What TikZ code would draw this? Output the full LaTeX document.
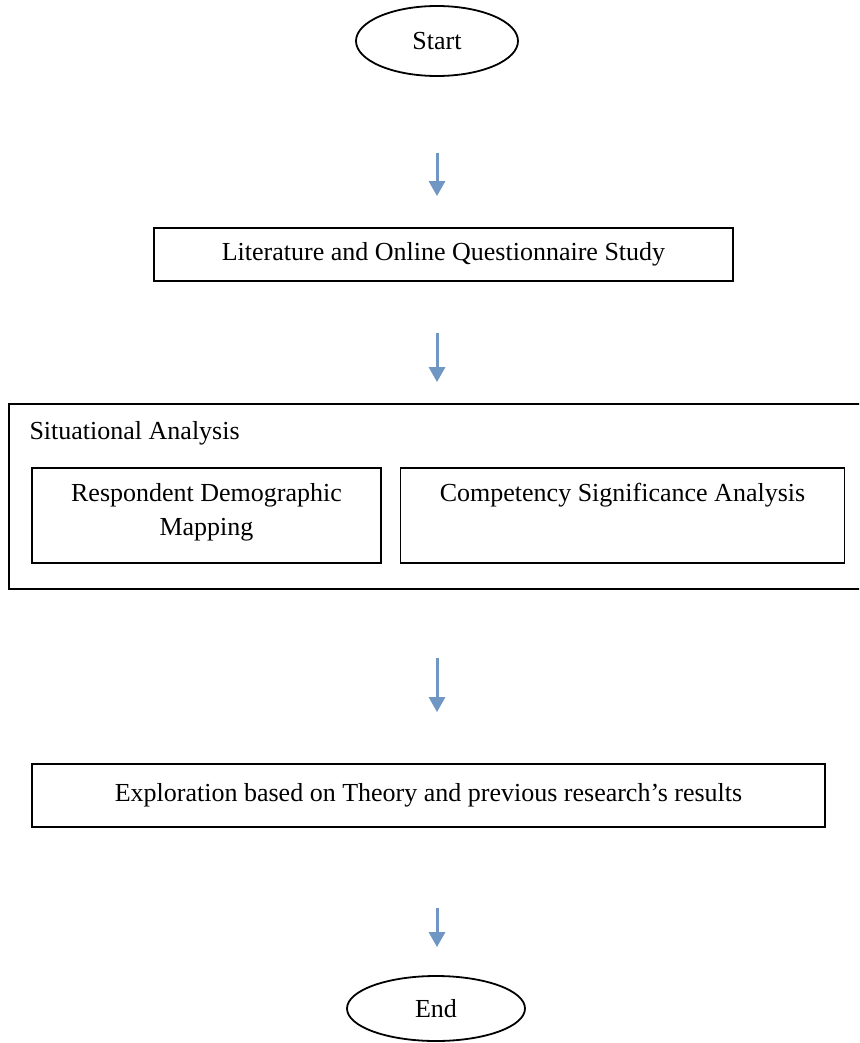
\documentclass[tikz,border=0pt]{standalone}
\usepackage{fontspec}
\setmainfont{Liberation Serif}
\usepackage{xcolor}
\usepackage{tikz}
\usetikzlibrary{
    arrows.meta,
    positioning,
    calc,
    shapes.geometric
}
\definecolor{arrowblue}{RGB}{112,150,196}
\tikzset{
    terminal/.style={
        draw,
        ellipse,
        line width=0.9pt,
        inner sep=0pt,
        align=center
    }
}
\tikzset{
    stagebox/.style={
        draw,
        line width=0.9pt,
        inner sep=0pt,
        align=center
    }
}
\tikzset{
    subbox/.style={
        draw,
        line width=0.9pt,
        inner xsep=0pt,
        inner ysep=0pt,
        align=flush center,
        anchor=north,
        text height=17pt,
        text depth=30.5pt
    }
}
\tikzset{
    groupbox/.style={
        draw,
        line width=0.9pt,
        inner sep=0pt
    }
}
\tikzset{
    flow/.style={
        draw=arrowblue,
        line width=1.5pt,
        -{Triangle[length=7.5pt,width=8pt]}
    }
}

\begin{document}
\begin{tikzpicture}[
    x=0.5pt,
    y=-0.5pt,
    font=\fontsize{13}{17}\selectfont
]
\useasboundingbox (0,0) rectangle (859,1043);
\clip (0,0) rectangle (859,1043);

\node[terminal, minimum width=81pt, minimum height=35pt] (start) at (437,41) {Start};

\node[stagebox, minimum width=289.5pt, minimum height=26.5pt] (lit) at (443.5,254.5)
    {Literature and Online Questionnaire Study};

\node[groupbox, minimum width=435.5pt, minimum height=92.5pt,
    label={[anchor=base west, inner sep=0pt, xshift=10.5pt, yshift=-18pt]north west:Situational Analysis}]
    (situ) at (444.5,496.5) {};

\node[subbox, minimum width=174.5pt, text width=170pt] (resp) at (206.5,467)
    {Respondent Demographic\\Mapping};
\node[subbox, minimum width=222pt, text width=218pt] (comp) at (622.5,467)
    {Competency Significance Analysis};

\node[stagebox, minimum width=396.5pt, minimum height=31.5pt] (expl) at (428.5,795.5)
    {Exploration based on Theory and previous research’s results};

\node[terminal, minimum width=89pt, minimum height=32.5pt] (end) at (436,1008.5) {End};

% arrows sit in the gaps, they do not touch the boxes
\draw[flow, shorten <=38pt, shorten >=15.5pt] (start.south) -- (start.south |- lit.north);
\draw[flow, shorten <=25.5pt, shorten >=10.5pt] (start.south |- lit.south) -- (start.south |- situ.north);
\draw[flow, shorten <=34pt, shorten >=25.5pt] (start.south |- situ.south) -- (start.south |- expl.north);
\draw[flow, shorten <=40pt, shorten >=14pt] (start.south |- expl.south) -- (start.south |- end.north);

\end{tikzpicture}
\end{document}
